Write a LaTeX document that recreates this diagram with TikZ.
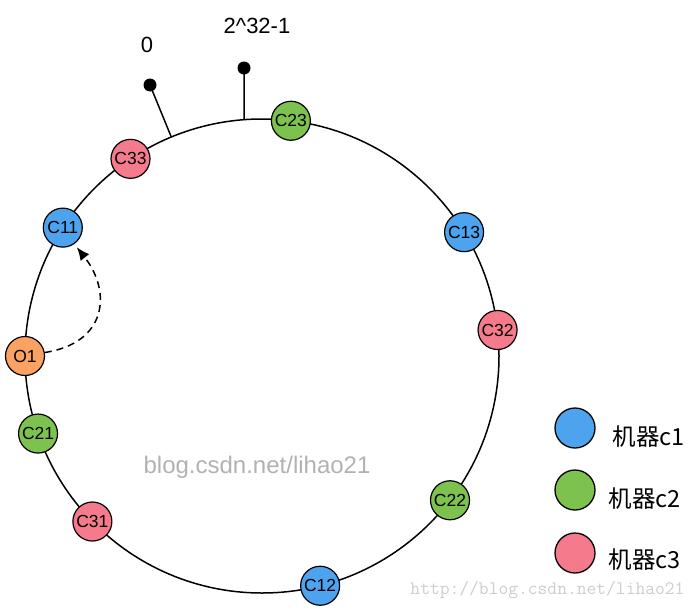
\documentclass[tikz,border=0pt]{standalone}
\usepackage{fontspec}
\setmainfont{Liberation Sans}
\newfontfamily\cjk{Noto Sans CJK SC}
\usetikzlibrary{arrows.meta}
\definecolor{cblue}{RGB}{77,163,238}
\definecolor{cgreen}{RGB}{125,194,78}
\definecolor{cpink}{RGB}{245,122,139}
\definecolor{corange}{RGB}{250,162,100}
\definecolor{wmgray}{RGB}{178,178,178}
\definecolor{urlgray}{RGB}{205,205,205}
\begin{document}
\begin{tikzpicture}[x=1pt,y=1pt]
\useasboundingbox (0,0) rectangle (696,-610);
\tikzset{
  srv/.style={circle,draw=black,line width=1.2pt,minimum size=39pt,inner sep=0pt,font=\fontsize{17.5}{17.5}\selectfont},
  pin/.style={circle,fill=black,minimum size=13pt,inner sep=0pt},
  lgd/.style={circle,draw=black,line width=1.3pt,minimum size=40pt,inner sep=0pt},
  lgdtext/.style={anchor=west,font=\cjk\fontsize{23.5}{23.5}\selectfont},
  toplabel/.style={font=\fontsize{22}{22}\selectfont}
}
\coordinate (ctr) at (262,-356);
\draw[line width=1.5pt] (ctr) circle (237pt);
% ticks
\coordinate (t0) at ([shift={(112.5:237pt)}]ctr);
\coordinate (tmax) at ([shift={(94.3:237pt)}]ctr);
\node[pin] (d0) at (150,-85) {};
\node[pin] (dmax) at (244,-68) {};
\draw[line width=1.5pt] (t0) -- (d0.center);
\draw[line width=1.5pt] (tmax) -- (dmax.center);
\node[toplabel] (l0) at (147,-45) {0};
\node[toplabel] (lmax) at (257,-26) {2\^{}32-1};
% servers
\node[srv,fill=cgreen] (C23) at ([shift={(83:237pt)}]ctr) {C23};
\node[srv,fill=cpink]  (C33) at ([shift={(123.7:237pt)}]ctr) {C33};
\node[srv,fill=cblue]  (C11) at ([shift={(147.2:237pt)}]ctr) {C11};
\node[srv,fill=corange](O1)  at ([shift={(180:237pt)}]ctr) {O1};
\node[srv,fill=cgreen] (C21) at ([shift={(199.1:237pt)}]ctr) {C21};
\node[srv,fill=cpink]  (C31) at ([shift={(224.3:237pt)}]ctr) {C31};
\node[srv,fill=cblue]  (C12) at ([shift={(284.2:237pt)}]ctr) {C12};
\node[srv,fill=cgreen] (C22) at ([shift={(322.5:237pt)}]ctr) {C22};
\node[srv,fill=cpink]  (C32) at ([shift={(6.3:237pt)}]ctr) {C32};
\node[srv,fill=cblue]  (C13) at ([shift={(31.5:237pt)}]ctr) {C13};
% dashed lookup arrow
\draw[line width=1.5pt,dash pattern=on 7pt off 5pt,-{Latex[length=13pt,width=11pt]},shorten >=4pt]
  (O1.10) .. controls (107,-343) and (112,-292) .. (C11.-55);
% watermark
\node[text=wmgray,font=\fontsize{24}{24}\selectfont] (wm) at (257,-467) {blog.csdn.net/lihao21};
\node[text=urlgray,font=\ttfamily\fontsize{19}{19}\selectfont,anchor=east] (url) at (688,-590) {http://blog.csdn.net/lihao21};
% legend
\node[lgd,fill=cblue]  (g1) at (575,-428) {};
\node[lgd,fill=cgreen] (g2) at (575,-490) {};
\node[lgd,fill=cpink]  (g3) at (575,-553) {};
\node[lgdtext] (t1) at (609,-437) {机器c1};
\node[lgdtext] (t2) at (605,-499) {机器c2};
\node[lgdtext] (t3) at (605,-560) {机器c3};
\end{tikzpicture}
\end{document}
